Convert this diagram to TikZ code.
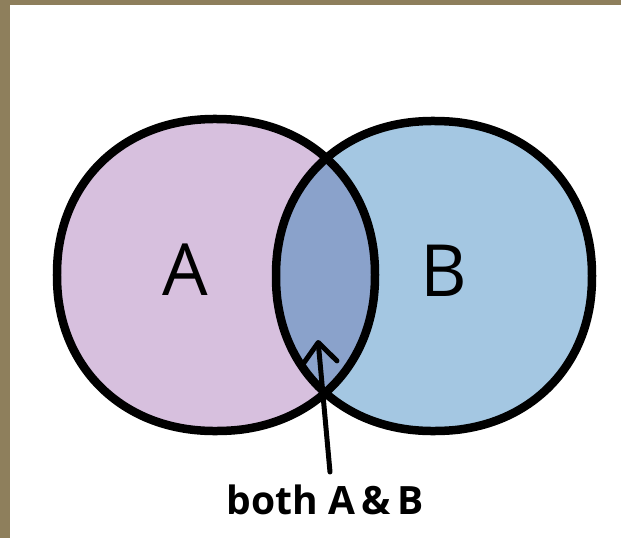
\documentclass[tikz,border=0pt]{standalone}
\usepackage{fontspec}
\setmainfont{Open Sans}
\usetikzlibrary{arrows.meta}
\definecolor{frameC}{HTML}{8E7F5C}
\definecolor{colA}{HTML}{D7C0DE}
\definecolor{colB}{HTML}{A4C7E2}
\definecolor{colAB}{HTML}{8AA2CB}
\tikzset{
  outline/.style={line width=8.5pt, draw=black, line join=round},
  biglabel/.style={font=\fontsize{72}{72}\selectfont, inner sep=0pt},
  smalllabel/.style={font=\bfseries\fontsize{39}{39}\selectfont, inner sep=0pt},
  pointer/.style={line width=5pt, line cap=round, -{Straight Barb[length=20pt,width=34pt,round]}}
}
\newcommand{\blobA}{plot[domain=0:360, samples=120, smooth cycle, variable=\t]
  ({216+159*sign(cos(\t))*abs(cos(\t))^0.94}, {275+156*sign(sin(\t))*abs(sin(\t))^0.94})}
\newcommand{\blobB}{plot[domain=0:360, samples=120, smooth cycle, variable=\t]
  ({434+158*sign(cos(\t))*abs(cos(\t))^0.94}, {276+155*sign(sin(\t))*abs(sin(\t))^0.94})}
\begin{document}
\begin{tikzpicture}[x=1pt,y=-1pt]
\useasboundingbox (0,0) rectangle (621,538);
\fill[white] (0,0) rectangle (621,538);
\fill[frameC] (0,0) rectangle (621,5);
\fill[frameC] (0,0) rectangle (10,538);
\fill[colA] \blobA;
\fill[colB] \blobB;
\begin{scope}
  \clip \blobA;
  \fill[colAB] \blobB;
\end{scope}
\draw[outline] \blobA;
\draw[outline] \blobB;
\node[biglabel] (la) at (185,270) {A};
\node[biglabel] (lb) at (444,271) {B};
\node[smalllabel, anchor=base] (both) at (325,514) {both A\,\&\,B};
\coordinate (tail) at (330,472);
\coordinate (tip) at (318,340);
\draw[pointer] (tail) -- (tip);
\end{tikzpicture}
\end{document}
